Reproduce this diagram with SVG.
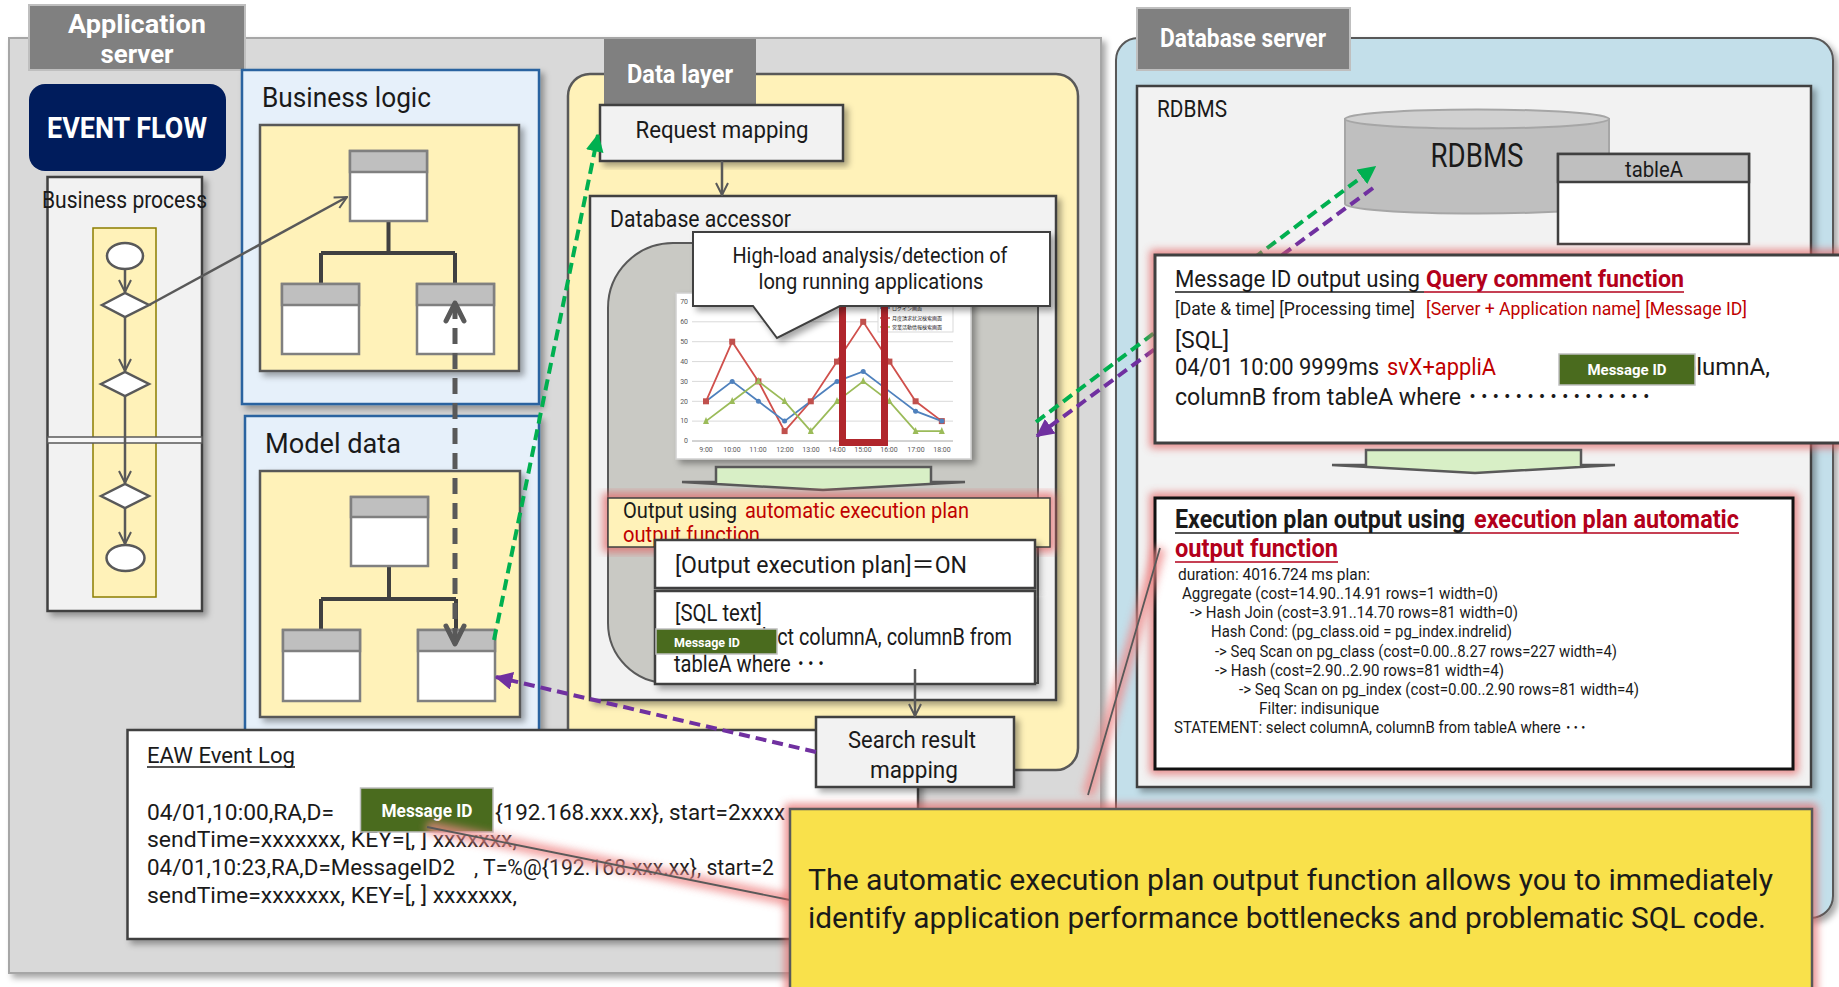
<svg xmlns="http://www.w3.org/2000/svg" width="1839" height="987" viewBox="0 0 1839 987">
<defs>
<style>
text{font-family:Roboto,"Liberation Sans","Noto Sans CJK JP",sans-serif;fill:#1a1a1a}
.lbl{font-weight:bold;fill:#fff;font-size:25px}
.box{fill:#f2f2f2;stroke:#404040;stroke-width:2.5}
.wbox{fill:#fff;stroke:#404040;stroke-width:2.5}
.yel{fill:#fff2b9;stroke:#595959;stroke-width:2.5}
.blue{fill:#e6f0fa;stroke:#2a64a0;stroke-width:2.5}
.cls{fill:#fff;stroke:#808080;stroke-width:2.5}
.clsh{fill:#bfbfbf;stroke:#808080;stroke-width:2.5}
.tree{fill:none;stroke:#404040;stroke-width:4}
.flow{fill:#fff;stroke:#595959;stroke-width:2.5}
.fl{fill:none;stroke:#595959;stroke-width:2.5}
.red{fill:#c00000}
.bred{fill:#b3001b;font-weight:bold}
.badge{fill:#4a6b1e;stroke:#bfbfbf;stroke-width:1.5}
.badget{fill:#fff;font-weight:bold}
.glow{fill:none;stroke:#e35f5f;stroke-width:10;opacity:.75}
.plan{font-size:16px}
.grid{stroke:#d9d9d9;stroke-width:1}
.ax{font-size:7px;fill:#595959}
.garrow{fill:#d8efc6;stroke:#595959;stroke-width:2.5}
.dg{fill:none;stroke:#00b050;stroke-width:4;stroke-dasharray:11 6}
.dp{fill:none;stroke:#7030a0;stroke-width:4;stroke-dasharray:11 6}
</style>
<filter id="sh" x="-10%" y="-10%" width="125%" height="125%"><feDropShadow dx="4" dy="4" stdDeviation="3" flood-color="#000" flood-opacity="0.35"/></filter>
<filter id="bl" x="-20%" y="-20%" width="140%" height="140%"><feGaussianBlur stdDeviation="4"/></filter>
<marker id="ao" viewBox="0 0 14 14" refX="13" refY="7" markerWidth="14" markerHeight="14" markerUnits="userSpaceOnUse" orient="auto"><path d="M1,1 L13,7 L1,13" fill="none" stroke="#595959" stroke-width="2"/></marker>
<marker id="at" viewBox="0 0 24 24" refX="21" refY="12" markerWidth="24" markerHeight="24" markerUnits="userSpaceOnUse" orient="auto-start-reverse"><path d="M3,3 L21,12 L3,21" fill="none" stroke="#595959" stroke-width="5" stroke-linecap="round" stroke-linejoin="round"/></marker>
<marker id="ag" viewBox="0 0 12 12" refX="11" refY="6" markerWidth="18" markerHeight="18" markerUnits="userSpaceOnUse" orient="auto"><path d="M0,0 L12,6 L0,12 Z" fill="#00b050"/></marker>
<marker id="ap" viewBox="0 0 12 12" refX="11" refY="6" markerWidth="18" markerHeight="18" markerUnits="userSpaceOnUse" orient="auto"><path d="M0,0 L12,6 L0,12 Z" fill="#7030a0"/></marker>
</defs>
<rect width="1839" height="987" fill="#fff"/>

<g id="app-server">
<rect x="9" y="38" width="1092" height="935" fill="#d9d9d9" stroke="#a6a6a6" stroke-width="2" filter="url(#sh)"/>
<rect x="29" y="5" width="216" height="65" fill="#808080" stroke="#bfbfbf" stroke-width="2"/>
<text x="137" y="33" class="lbl" text-anchor="middle" textLength="138" lengthAdjust="spacingAndGlyphs">Application</text>
<text x="137" y="63" class="lbl" text-anchor="middle" textLength="73" lengthAdjust="spacingAndGlyphs">server</text>
</g>

<g id="db-server">
<rect x="1116" y="38" width="717" height="880" rx="22" fill="#c3dfea" stroke="#595959" stroke-width="2" filter="url(#sh)"/>
<rect x="1137" y="8" width="213" height="62" fill="#808080" stroke="#bfbfbf" stroke-width="2"/>
<text x="1160" y="47" class="lbl" font-size="24" textLength="166" lengthAdjust="spacingAndGlyphs">Database server</text>
</g>

<g id="event-flow">
<rect x="29" y="84" width="197" height="87" rx="16" fill="#001c5c"/>
<text x="127" y="138" text-anchor="middle" font-size="30" font-weight="bold" style="fill:#fff" textLength="160" lengthAdjust="spacingAndGlyphs">EVENT FLOW</text>
</g>

<g id="business-process">
<rect x="47.5" y="177" width="154.5" height="434" class="box" filter="url(#sh)"/>
<rect x="93" y="228" width="63" height="369" fill="#fff2b9" stroke="#8c7e00" stroke-width="1.5"/>
<rect x="47.5" y="437" width="154.5" height="6" fill="#f8f8f8" stroke="#595959" stroke-width="1.5"/>
<text x="42" y="208" font-size="23" textLength="165" lengthAdjust="spacingAndGlyphs">Business process</text>
<ellipse cx="125" cy="256" rx="18" ry="13" class="flow"/>
<polygon points="102,305 125,293 149,305 125,317" class="flow"/>
<polygon points="101,384 125,372 149,384 125,396" class="flow"/>
<polygon points="101,496 125,484 149,496 125,508" class="flow"/>
<ellipse cx="125.5" cy="558" rx="19" ry="13" class="flow"/>
</g>

<g id="business-logic">
<rect x="242" y="70" width="297" height="334" class="blue" filter="url(#sh)"/>
<text x="262" y="107" font-size="28" textLength="169" lengthAdjust="spacingAndGlyphs">Business logic</text>
<rect x="260" y="125" width="259" height="246" class="yel" filter="url(#sh)"/>
<path d="M388.5,221 V253 M321,253 H455 M321,253 V284 M455,253 V284" class="tree"/>
<rect x="350" y="151" width="77" height="70" class="cls"/><rect x="350" y="151" width="77" height="21" class="clsh"/>
<rect x="282" y="284" width="77" height="70" class="cls"/><rect x="282" y="284" width="77" height="21" class="clsh"/>
<rect x="417" y="284" width="77" height="70" class="cls"/><rect x="417" y="284" width="77" height="21" class="clsh"/>
</g>

<g id="model-data">
<rect x="245" y="416" width="294" height="330" class="blue" filter="url(#sh)"/>
<text x="265" y="453" font-size="28" textLength="136" lengthAdjust="spacingAndGlyphs">Model data</text>
<rect x="260" y="471" width="260" height="246" class="yel" filter="url(#sh)"/>
<path d="M389,566 V599 M321,599 H456 M321,599 V630 M456,599 V630" class="tree"/>
<rect x="351" y="497" width="77" height="69" class="cls"/><rect x="351" y="497" width="77" height="20" class="clsh"/>
<rect x="283" y="630" width="77" height="71" class="cls"/><rect x="283" y="630" width="77" height="21" class="clsh"/>
<rect x="418" y="630" width="77" height="71" class="cls"/><rect x="418" y="630" width="77" height="21" class="clsh"/>
</g>

<g id="data-layer">
<rect x="568" y="74" width="510" height="696" rx="22" class="yel"/>
<rect x="604" y="39" width="152" height="67" fill="#808080"/>
<text x="627" y="83" class="lbl" textLength="106" lengthAdjust="spacingAndGlyphs">Data layer</text>
</g>

<g id="request-mapping">
<rect x="600" y="105" width="243" height="56" class="box" filter="url(#sh)"/>
<text x="722" y="138" font-size="24" text-anchor="middle" textLength="173" lengthAdjust="spacingAndGlyphs">Request mapping</text>
</g>

<g id="database-accessor">
<rect x="590" y="196" width="466" height="504" class="box" filter="url(#sh)"/>
<text x="610" y="227" font-size="24" textLength="181" lengthAdjust="spacingAndGlyphs">Database accessor</text>
<path d="M673,243 H1038 V683 H668 A60,60 0 0 1 608,623 V308 A65,65 0 0 1 673,243 Z" fill="#c9c9c4" stroke="#595959" stroke-width="2"/>
</g>

<g id="chart">
<rect x="676" y="293" width="295" height="166" fill="#fff" stroke="#d0d0d0" stroke-width="1.5" filter="url(#sh)"/>
<g class="grid">
<line x1="692" y1="302" x2="953" y2="302"/><line x1="692" y1="321.8" x2="953" y2="321.8"/><line x1="692" y1="341.7" x2="953" y2="341.7"/><line x1="692" y1="361.6" x2="953" y2="361.6"/><line x1="692" y1="381.4" x2="953" y2="381.4"/><line x1="692" y1="401.3" x2="953" y2="401.3"/><line x1="692" y1="421.1" x2="953" y2="421.1"/><line x1="692" y1="441" x2="953" y2="441" stroke="#a6a6a6"/>
</g>
<g text-anchor="end">
<text x="688" y="304" class="ax">70</text><text x="688" y="324" class="ax">60</text><text x="688" y="344" class="ax">50</text><text x="688" y="364" class="ax">40</text><text x="688" y="384" class="ax">30</text><text x="688" y="404" class="ax">20</text><text x="688" y="423" class="ax">10</text><text x="688" y="443" class="ax">0</text>
</g>
<g text-anchor="middle">
<text x="706" y="452" class="ax">9:00</text><text x="732" y="452" class="ax">10:00</text><text x="758" y="452" class="ax">11:00</text><text x="785" y="452" class="ax">12:00</text><text x="811" y="452" class="ax">13:00</text><text x="837" y="452" class="ax">14:00</text><text x="863" y="452" class="ax">15:00</text><text x="889" y="452" class="ax">16:00</text><text x="916" y="452" class="ax">17:00</text><text x="942" y="452" class="ax">18:00</text>
</g>
<polyline points="706,401.3 732.2,341.7 758.4,381.4 784.6,431.1 810.8,401.3 837,361.6 863.2,321.8 889.4,361.6 915.6,401.3 941.8,421.1" fill="none" stroke="#d0504c" stroke-width="1.8"/>
<polyline points="706,401.3 732.2,381.4 758.4,401.3 784.6,421.1 810.8,401.3 837,381.4 863.2,371.5 889.4,391.4 915.6,411.2 941.8,421.1" fill="none" stroke="#4f81bd" stroke-width="1.8"/>
<polyline points="706,421.1 732.2,401.3 758.4,381.4 784.6,401.3 810.8,431.1 837,401.3 863.2,381.4 889.4,401.3 915.6,431.1 941.8,431.1" fill="none" stroke="#9bbb59" stroke-width="1.8"/>
<g fill="#c0504d">
<rect x="703" y="398.3" width="6" height="6"/><rect x="729.2" y="338.7" width="6" height="6"/><rect x="755.4" y="378.4" width="6" height="6"/><rect x="781.6" y="428.1" width="6" height="6"/><rect x="807.8" y="398.3" width="6" height="6"/><rect x="834" y="358.6" width="6" height="6"/><rect x="860.2" y="318.8" width="6" height="6"/><rect x="886.4" y="358.6" width="6" height="6"/><rect x="912.6" y="398.3" width="6" height="6"/><rect x="938.8" y="418.1" width="6" height="6"/>
</g>
<g fill="#9bbb59">
<polygon points="706,417 709,424 703,424"/><polygon points="732.2,397 735.2,404 729.2,404"/><polygon points="758.4,377 761.4,384 755.4,384"/><polygon points="784.6,397 787.6,404 781.6,404"/><polygon points="810.8,427 813.8,434 807.8,434"/><polygon points="837,397 840,404 834,404"/><polygon points="863.2,377 866.2,384 860.2,384"/><polygon points="889.4,397 892.4,404 886.4,404"/><polygon points="915.6,427 918.6,434 912.6,434"/><polygon points="941.8,427 944.8,434 938.8,434"/>
</g>
<g fill="#4f81bd">
<circle cx="732.2" cy="381.4" r="2.5"/><circle cx="758.4" cy="401.3" r="2.5"/><circle cx="784.6" cy="421.1" r="2.5"/><circle cx="837" cy="381.4" r="2.5"/><circle cx="863.2" cy="371.5" r="2.5"/><circle cx="915.6" cy="411.2" r="2.5"/><circle cx="941.8" cy="421.1" r="2.5"/>
</g>
<rect x="878" y="303" width="75" height="29" fill="#fff" stroke="#d9d9d9" stroke-width="1"/>
<line x1="880" y1="308" x2="890" y2="308" stroke="#4f81bd" stroke-width="1.5"/>
<line x1="880" y1="318" x2="890" y2="318" stroke="#c0504d" stroke-width="1.5"/>
<line x1="880" y1="327" x2="890" y2="327" stroke="#9bbb59" stroke-width="1.5"/>
<text x="892" y="310" font-size="5" fill="#595959">ログイン画面</text>
<text x="892" y="320" font-size="5" fill="#595959">月度請求状況検索画面</text>
<text x="892" y="329" font-size="5" fill="#595959">営業活動情報検索画面</text>
<rect x="842.5" y="296" width="42" height="146.5" fill="none" stroke="#b0262c" stroke-width="7"/>
</g>

<g id="callout">
<path d="M693,232 H1050 V306 H840 L777,338 L753,306 H693 Z" fill="#fff" stroke="#404040" stroke-width="2" filter="url(#sh)"/>
<text x="870" y="263" font-size="22" text-anchor="middle" textLength="275" lengthAdjust="spacingAndGlyphs">High-load analysis/detection of</text>
<text x="871" y="289" font-size="22" text-anchor="middle" textLength="225" lengthAdjust="spacingAndGlyphs">long running applications</text>
</g>

<g id="block-arrow-1">
<path d="M716,467 H931 V482 H965 L823,490 L682,482 H716 Z" class="garrow"/>
</g>

<g id="output-plan">
<rect x="608" y="498" width="442" height="49" class="glow" filter="url(#bl)"/>
<rect x="608" y="498" width="442" height="49" fill="#fff2b9" stroke="#404040" stroke-width="1.5"/>
<text x="623" y="518" font-size="22" textLength="114" lengthAdjust="spacingAndGlyphs">Output using</text>
<text x="745" y="518" font-size="22" class="red" textLength="224" lengthAdjust="spacingAndGlyphs">automatic execution plan</text>
<text x="623" y="542" font-size="22" class="red" textLength="137" lengthAdjust="spacingAndGlyphs">output function</text>
</g>

<g id="plan-on">
<rect x="655" y="540" width="380" height="48" class="wbox" filter="url(#sh)"/>
<text x="675" y="573" font-size="24" textLength="292" lengthAdjust="spacingAndGlyphs">[Output execution plan]＝ON</text>
</g>

<g id="sql-text">
<rect x="655" y="591" width="380" height="93" class="wbox" filter="url(#sh)"/>
<text x="675" y="621" font-size="23" textLength="87" lengthAdjust="spacingAndGlyphs">[SQL text]</text>
<text x="741" y="645" font-size="23" textLength="271" lengthAdjust="spacingAndGlyphs">select columnA, columnB from</text>
<text x="674" y="672" font-size="23" textLength="152" lengthAdjust="spacingAndGlyphs">tableA where ･･･</text>
<rect x="656" y="629" width="121" height="25" class="badge"/>
<text x="707" y="647" font-size="13" class="badget" text-anchor="middle" textLength="66" lengthAdjust="spacingAndGlyphs">Message ID</text>
</g>

<g id="rdbms">
<rect x="1137" y="86" width="674" height="701" class="box" filter="url(#sh)"/>
<text x="1157" y="117" font-size="24" textLength="70" lengthAdjust="spacingAndGlyphs">RDBMS</text>
<path d="M1345,119 V204 A132,9.5 0 0 0 1609,204 V119 Z" fill="#bfbfbf" stroke="#a6a6a6" stroke-width="2"/>
<ellipse cx="1477" cy="119" rx="132" ry="9.5" fill="#d0d0d0" stroke="#a6a6a6" stroke-width="2"/>
<text x="1477" y="167" font-size="34" text-anchor="middle" textLength="93" lengthAdjust="spacingAndGlyphs">RDBMS</text>
</g>

<g id="tableA">
<rect x="1558" y="154" width="191" height="90" class="wbox"/>
<rect x="1558" y="154" width="191" height="28" fill="#bfbfbf" stroke="#404040" stroke-width="2.5"/>
<text x="1654" y="177" font-size="22" text-anchor="middle" textLength="58" lengthAdjust="spacingAndGlyphs">tableA</text>
</g>

<g id="connectors-under">
<line x1="1036" y1="422" x2="1375" y2="167" class="dg" marker-end="url(#ag)"/>
<line x1="1373" y1="188" x2="1037" y2="436" class="dp" marker-end="url(#ap)"/>
</g>

<g id="query-comment">
<rect x="1155" y="255" width="700" height="188" class="glow" filter="url(#bl)"/>
<rect x="1155" y="255" width="700" height="188" fill="#fff" stroke="#404040" stroke-width="3"/>
<text x="1175" y="287" font-size="24" textLength="245" lengthAdjust="spacingAndGlyphs">Message ID output using</text>
<text x="1426" y="287" font-size="24" class="bred" textLength="258" lengthAdjust="spacingAndGlyphs">Query comment function</text>
<line x1="1175" y1="292" x2="1424" y2="292" stroke="#1a1a1a" stroke-width="1.5"/>
<line x1="1424" y1="292" x2="1684" y2="292" stroke="#b3001b" stroke-width="1.5"/>
<text x="1175" y="315" font-size="18" textLength="240" lengthAdjust="spacingAndGlyphs">[Date &amp; time] [Processing time]</text>
<text x="1426" y="315" font-size="18" class="red" textLength="321" lengthAdjust="spacingAndGlyphs">[Server + Application name] [Message ID]</text>
<text x="1175" y="348" font-size="24" textLength="54" lengthAdjust="spacingAndGlyphs">[SQL]</text>
<text x="1175" y="375" font-size="24" textLength="204" lengthAdjust="spacingAndGlyphs">04/01 10:00 9999ms</text>
<text x="1387" y="375" font-size="24" class="red" textLength="109" lengthAdjust="spacingAndGlyphs">svX+appliA</text>
<text x="1670" y="375" font-size="24" textLength="100" lengthAdjust="spacingAndGlyphs">columnA,</text>
<rect x="1559" y="354" width="136" height="31" class="badge" stroke-width="2"/>
<text x="1627" y="375" font-size="15" class="badget" text-anchor="middle" textLength="79" lengthAdjust="spacingAndGlyphs">Message ID</text>
<text x="1175" y="405" font-size="24" textLength="477" lengthAdjust="spacingAndGlyphs">columnB from  tableA where ････････････････</text>
</g>

<g id="block-arrow-2">
<path d="M1366,450 H1581 V465 H1615 L1475,473 L1332,465 H1366 Z" class="garrow"/>
</g>

<g id="execution-plan">
<rect x="1155" y="498" width="638" height="271" class="glow" filter="url(#bl)"/>
<rect x="1155" y="498" width="638" height="271" fill="#fff" stroke="#111" stroke-width="3"/>
<text x="1175" y="528" font-size="25" font-weight="bold" textLength="290" lengthAdjust="spacingAndGlyphs">Execution plan output using</text>
<text x="1474" y="528" font-size="25" class="bred" textLength="265" lengthAdjust="spacingAndGlyphs">execution plan automatic</text>
<text x="1175" y="557" font-size="25" class="bred" textLength="163" lengthAdjust="spacingAndGlyphs">output function</text>
<line x1="1175" y1="533" x2="1470" y2="533" stroke="#1a1a1a" stroke-width="1.5"/>
<line x1="1470" y1="533" x2="1739" y2="533" stroke="#b3001b" stroke-width="1.5"/>
<line x1="1175" y1="562" x2="1338" y2="562" stroke="#b3001b" stroke-width="1.5"/>
<text x="1178" y="580" class="plan" textLength="192" lengthAdjust="spacingAndGlyphs">duration: 4016.724 ms  plan:</text>
<text x="1182" y="599" class="plan" textLength="316" lengthAdjust="spacingAndGlyphs">Aggregate  (cost=14.90..14.91 rows=1 width=0)</text>
<text x="1190" y="618" class="plan" textLength="328" lengthAdjust="spacingAndGlyphs">-&gt; Hash Join  (cost=3.91..14.70 rows=81 width=0)</text>
<text x="1211" y="637" class="plan" textLength="301" lengthAdjust="spacingAndGlyphs">Hash Cond: (pg_class.oid = pg_index.indrelid)</text>
<text x="1215" y="657" class="plan" textLength="402" lengthAdjust="spacingAndGlyphs">-&gt; Seq Scan on pg_class  (cost=0.00..8.27 rows=227 width=4)</text>
<text x="1215" y="676" class="plan" textLength="289" lengthAdjust="spacingAndGlyphs">-&gt; Hash  (cost=2.90..2.90 rows=81 width=4)</text>
<text x="1239" y="695" class="plan" textLength="400" lengthAdjust="spacingAndGlyphs">-&gt; Seq Scan on pg_index  (cost=0.00..2.90 rows=81 width=4)</text>
<text x="1259" y="714" class="plan" textLength="120" lengthAdjust="spacingAndGlyphs">Filter: indisunique</text>
<text x="1174" y="733" class="plan" textLength="413" lengthAdjust="spacingAndGlyphs">STATEMENT:  select columnA, columnB from tableA  where ･･･</text>
</g>

<g id="eaw-event-log">
<rect x="127.5" y="730" width="790.5" height="209" class="wbox" filter="url(#sh)"/>
<text x="147" y="763" font-size="22" textLength="148" lengthAdjust="spacingAndGlyphs">EAW Event Log</text>
<line x1="147" y1="767" x2="295" y2="767" stroke="#1a1a1a" stroke-width="1.5"/>
<text x="147" y="820" font-size="22" textLength="187" lengthAdjust="spacingAndGlyphs">04/01,10:00,RA,D=</text>
<text x="495" y="820" font-size="22" textLength="290" lengthAdjust="spacingAndGlyphs">{192.168.xxx.xx}, start=2xxxx</text>
<text x="147" y="847" font-size="22" textLength="370" lengthAdjust="spacingAndGlyphs">sendTime=xxxxxxx, KEY=[, ] xxxxxxx,</text>
<text x="147" y="875" font-size="22" textLength="308" lengthAdjust="spacingAndGlyphs">04/01,10:23,RA,D=MessageID2</text>
<text x="474" y="875" font-size="22" textLength="300" lengthAdjust="spacingAndGlyphs">, T=%@{192.168.xxx.xx}, start=2</text>
<text x="147" y="903" font-size="22" textLength="370" lengthAdjust="spacingAndGlyphs">sendTime=xxxxxxx, KEY=[, ] xxxxxxx,</text>
<rect x="360.5" y="788" width="132.5" height="44" class="badge" stroke-width="2"/>
<text x="427" y="817" font-size="18" class="badget" text-anchor="middle" textLength="91" lengthAdjust="spacingAndGlyphs">Message ID</text>
</g>

<g id="search-result-mapping">
<rect x="816" y="717" width="198" height="70" class="box" filter="url(#sh)"/>
<text x="912" y="748" font-size="24" text-anchor="middle" textLength="128" lengthAdjust="spacingAndGlyphs">Search result</text>
<text x="914" y="778" font-size="24" text-anchor="middle" textLength="88" lengthAdjust="spacingAndGlyphs">mapping</text>
</g>

<g id="connectors">
<line x1="125" y1="269" x2="125" y2="292" class="fl" marker-end="url(#ao)"/>
<line x1="125" y1="317" x2="125" y2="371" class="fl" marker-end="url(#ao)"/>
<line x1="125" y1="396" x2="125" y2="483" class="fl" marker-end="url(#ao)"/>
<line x1="125" y1="508" x2="125" y2="544" class="fl" marker-end="url(#ao)"/>
<line x1="149" y1="305" x2="347" y2="197" class="fl" marker-end="url(#ao)"/>
<line x1="722" y1="161" x2="722" y2="195" class="fl" marker-end="url(#ao)"/>
<line x1="915" y1="669" x2="915" y2="716" class="fl" marker-end="url(#ao)"/>
<line x1="455" y1="303" x2="455" y2="644" fill="none" stroke="#595959" stroke-width="5" stroke-dasharray="16 9" marker-start="url(#at)" marker-end="url(#at)"/>
<line x1="494" y1="640" x2="598" y2="135" class="dg" marker-end="url(#ag)"/>
<line x1="816" y1="752" x2="496" y2="677" class="dp" marker-end="url(#ap)"/>
</g>

<g id="callout-lines">
<line x1="427" y1="827" x2="790" y2="900" stroke="#ef8a8a" stroke-width="12" opacity=".8" filter="url(#bl)"/>
<line x1="1088" y1="795" x2="1160" y2="548" stroke="#ef8a8a" stroke-width="12" opacity=".8" filter="url(#bl)"/>
<line x1="427" y1="827" x2="790" y2="900" stroke="#595959" stroke-width="1.8"/>
<line x1="1088" y1="795" x2="1160" y2="548" stroke="#595959" stroke-width="1.8"/>
</g>

<g id="summary">
<rect x="790" y="809" width="1022" height="200" class="glow" filter="url(#bl)"/>
<rect x="790" y="809" width="1022" height="200" fill="#f9e14b" stroke="#595959" stroke-width="2.5"/>
<text x="808" y="890" font-size="30" textLength="965" lengthAdjust="spacingAndGlyphs">The automatic execution plan output function allows you to immediately</text>
<text x="808" y="928" font-size="30" textLength="958" lengthAdjust="spacingAndGlyphs">identify application performance bottlenecks and problematic SQL code.</text>
</g>
</svg>
